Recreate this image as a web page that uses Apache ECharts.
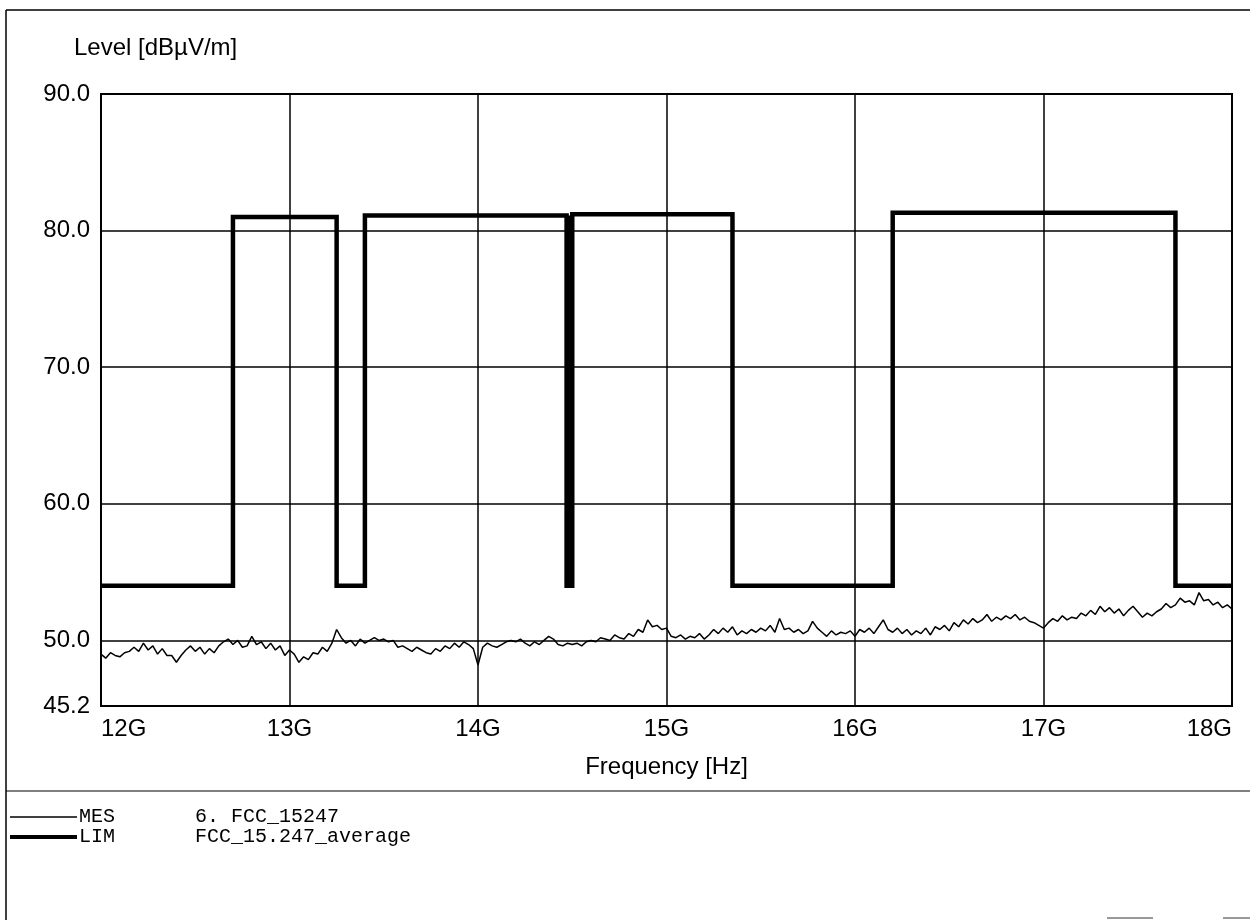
<!DOCTYPE html>
<html>
<head>
<meta charset="utf-8">
<title>Level vs Frequency</title>
<script src="https://cdn.jsdelivr.net/npm/echarts@6/dist/echarts.min.js"></script>
<style>
  html, body { margin: 0; padding: 0; background: #fff; }
  #chart { width: 1250px; height: 920px; }
</style>
</head>
<body>
<div id="chart"></div>
<script>
// Sweep grid: 12 GHz to 18 GHz in 25 MHz steps
const sweepStart = 12;
const sweepStep = 0.025;

// Measured level (MES), dBµV/m, one value per sweep point
const mesLevel = [
  49.0,48.7,49.1,48.9,48.8,49.1,49.2,49.5,49.2,49.8, 49.3,49.6,49.0,49.4,48.9,48.9,48.4,48.9,49.3,49.6,
  49.2,49.5,49.0,49.4,49.1,49.6,49.9,50.1,49.7,50.0, 49.5,49.6,50.3,49.7,49.9,49.4,49.8,49.3,49.6,48.9,
  49.3,49.0,48.4,48.8,48.6,49.1,49.0,49.5,49.2,49.8, 50.8,50.2,49.8,50.0,49.6,50.1,49.8,50.0,50.2,50.0,
  50.1,49.9,50.0,49.5,49.6,49.4,49.2,49.5,49.3,49.1, 49.0,49.4,49.2,49.6,49.4,49.8,49.5,49.9,49.7,49.4,
  48.2,49.5,49.8,49.6,49.5,49.7,49.9,50.0,49.9,50.1, 49.8,49.6,49.9,49.7,50.0,50.3,50.1,49.7,49.6,49.8,
  49.7,49.8,49.6,49.9,50.0,49.9,50.2,50.1,50.0,50.4, 50.2,50.1,50.5,50.3,50.8,50.6,51.5,51.0,51.1,50.8,
  50.9,50.3,50.2,50.4,50.1,50.3,50.2,50.5,50.1,50.4, 50.8,50.5,50.9,50.6,51.0,50.4,50.7,50.5,50.8,50.6,
  50.9,50.7,51.1,50.6,51.6,50.8,50.9,50.6,50.8,50.5, 50.7,51.4,50.9,50.6,50.3,50.7,50.4,50.6,50.5,50.7,
  50.3,50.8,50.6,50.9,50.5,51.0,51.5,50.8,50.6,50.9, 50.5,50.8,50.4,50.7,50.5,50.9,50.4,51.0,50.8,51.1,
  50.7,51.3,51.0,51.5,51.2,51.6,51.3,51.5,51.9,51.4, 51.7,51.5,51.8,51.6,51.9,51.5,51.7,51.4,51.3,51.1,
  50.9,51.3,51.6,51.4,51.8,51.5,51.7,51.6,52.0,51.8, 52.2,51.9,52.5,52.1,52.4,52.0,52.3,51.8,52.2,52.5,
  52.1,51.7,52.0,51.8,52.1,52.3,52.7,52.4,52.6,53.1, 52.8,52.9,52.6,53.5,52.9,53.0,52.6,52.8,52.4,52.6,
  52.3
];

// Limit line (LIM), FCC 15.247 average: band edges in GHz and levels in dBµV/m
const limFreq  = [12, 12.7, 12.7, 13.25, 13.25, 13.4, 13.4, 14.47, 14.47, 14.5, 14.5, 15.35, 15.35, 16.2, 16.2, 17.7, 17.7, 18];
const limLevel = [54, 54, 81.0, 81.0, 54, 54, 81.1, 81.1, 54, 54, 81.2, 81.2, 54, 54, 81.3, 81.3, 54, 54];

// Axis ticks
const yTicks = [45.2, 50, 60, 70, 80, 90];
const xTicks = [12, 13, 14, 15, 16, 17, 18];

const mesData = mesLevel.map((v, i) => [+(sweepStart + i * sweepStep).toFixed(3), v]);
const limData = limFreq.map((f, i) => [f, limLevel[i]]);

// The narrow 14.47-14.5 GHz notch prints as a solid block
const notchArea = [[
  { xAxis: limFreq[8], yAxis: limLevel[8] },
  { xAxis: limFreq[9], yAxis: limLevel[7] }
]];

const FONT = '"Liberation Sans", Arial, sans-serif';
const MONO = '"Liberation Mono", "Courier New", monospace';

const chart = echarts.init(document.getElementById('chart'), null, { renderer: 'canvas' });

chart.setOption({
  animation: false,
  backgroundColor: '#fff',
  grid: {
    left: 101, right: 18, top: 94, bottom: 214,
    show: true, borderColor: '#000', borderWidth: 2, backgroundColor: 'transparent'
  },
  xAxis: {
    type: 'value',
    min: xTicks[0], max: xTicks[xTicks.length - 1], interval: 1,
    axisLine: { show: true, lineStyle: { color: '#000', width: 2 } },
    axisTick: { show: false },
    splitLine: { show: true, lineStyle: { color: '#000', width: 1.5 } },
    axisLabel: {
      color: '#000', fontFamily: FONT, fontSize: 24, margin: 11,
      showMinLabel: true, showMaxLabel: true,
      alignMinLabel: 'left', alignMaxLabel: 'right',
      formatter: v => v + 'G'
    },
    name: 'Frequency [Hz]',
    nameLocation: 'middle',
    nameGap: 49,
    nameTextStyle: { color: '#000', fontFamily: FONT, fontSize: 24 }
  },
  yAxis: {
    type: 'value',
    min: yTicks[0], max: yTicks[yTicks.length - 1],
    axisLine: { show: true, lineStyle: { color: '#000', width: 2 } },
    axisTick: { show: false, customValues: yTicks },
    splitLine: { show: true, lineStyle: { color: '#000', width: 1.5 } },
    axisLabel: {
      color: '#000', fontFamily: FONT, fontSize: 24, margin: 11,
      customValues: yTicks,
      formatter: v => Number(v).toFixed(1)
    }
  },
  series: [
    {
      name: 'MES', type: 'line', data: mesData,
      showSymbol: false, silent: true, z: 3,
      lineStyle: { color: '#000', width: 1.5 }
    },
    {
      name: 'LIM', type: 'line', data: limData,
      showSymbol: false, silent: true, z: 4,
      lineStyle: { color: '#000', width: 4.5, join: 'miter', cap: 'butt' },
      markArea: {
        silent: true,
        itemStyle: { color: '#000', opacity: 1 },
        data: notchArea
      }
    }
  ],
  graphic: [
    // page frame and separator
    { type: 'line', shape: { x1: 6, y1: 10, x2: 1250, y2: 10 }, style: { stroke: '#000', lineWidth: 1.5 } },
    { type: 'line', shape: { x1: 6, y1: 10, x2: 6, y2: 920 }, style: { stroke: '#000', lineWidth: 1.5 } },
    { type: 'line', shape: { x1: 6, y1: 791, x2: 1250, y2: 791 }, style: { stroke: '#000', lineWidth: 1.2 } },
    { type: 'line', shape: { x1: 1107, y1: 918, x2: 1153, y2: 918 }, style: { stroke: '#999', lineWidth: 2 } },
    { type: 'line', shape: { x1: 1223, y1: 918, x2: 1250, y2: 918 }, style: { stroke: '#999', lineWidth: 2 } },
    // y axis title
    { type: 'text', left: 74, top: 36, style: { text: 'Level [dBµV/m]', fill: '#000', font: '24px ' + FONT } },
    // legend
    { type: 'line', shape: { x1: 10, y1: 817, x2: 77, y2: 817 }, style: { stroke: '#000', lineWidth: 1.3 } },
    { type: 'line', shape: { x1: 10, y1: 837, x2: 77, y2: 837 }, style: { stroke: '#000', lineWidth: 4 } },
    { type: 'text', left: 79, top: 807, style: { text: 'MES', fill: '#000', font: '20px ' + MONO } },
    { type: 'text', left: 195, top: 807, style: { text: '6. FCC_15247', fill: '#000', font: '20px ' + MONO } },
    { type: 'text', left: 79, top: 827, style: { text: 'LIM', fill: '#000', font: '20px ' + MONO } },
    { type: 'text', left: 195, top: 827, style: { text: 'FCC_15.247_average', fill: '#000', font: '20px ' + MONO } }
  ]
});
</script>
</body>
</html>
